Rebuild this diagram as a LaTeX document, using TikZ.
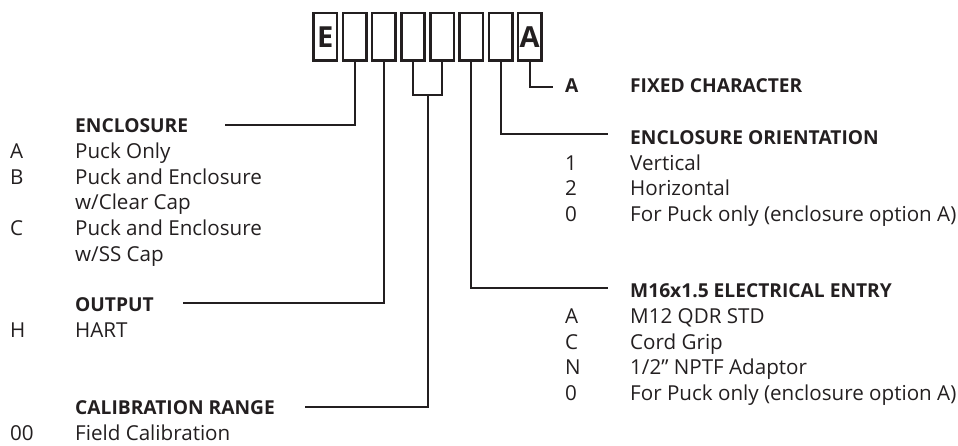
\documentclass[tikz,border=0pt]{standalone}
\usepackage{fontspec}
\setmainfont{Open Sans}
\usetikzlibrary{positioning}
\definecolor{ink}{RGB}{35,31,32}
\begin{document}
\begin{tikzpicture}[x=1pt,y=-1pt,every node/.style={text=ink},
		box/.style={draw=ink,line width=2.6pt,minimum width=23.4pt,minimum height=47.4pt,inner sep=0pt,font=\fontsize{29}{29}\bfseries\selectfont},
		head/.style={anchor=base west,inner sep=0pt,font=\fontsize{19.2}{26}\bfseries\selectfont},
		codes/.style={anchor=base west,inner sep=0pt,font=\fontsize{20.6}{25.8}\selectfont},
		wire/.style={draw=ink,line width=2pt}]
	\useasboundingbox (0,0) rectangle (958,445);
	
	% Code boxes
	\foreach \i/\t in {1/E,2/,3/,4/,5/,6/,7/,8/A}
		\node[box] (b\i) at ({325.3+29.2*(\i-1)},36.7) {\t};
	
	% Left side headings
	\node[head] (enc) at (75,132.3) {ENCLOSURE};
	\node[head] (out) at (75,311.7) {OUTPUT};
	\node[head] (cal) at (75,414) {CALIBRATION RANGE};
	
	% Left side options
	\node[codes] (encOpt) at (10,158.3) {\begin{tabular}[t]{@{}p{65pt}@{}l@{}}
			A & Puck Only\\
			B & Puck and Enclosure\\
			& w/Clear Cap\\
			C & Puck and Enclosure\\
			& w/SS Cap
		\end{tabular}};
	\node[codes] (outOpt) at (10,337.3) {\begin{tabular}[t]{@{}p{65pt}@{}l@{}}
			H & HART
		\end{tabular}};
	\node[codes] (calOpt) at (10,440) {\begin{tabular}[t]{@{}p{65pt}@{}l@{}}
			00 & Field Calibration
		\end{tabular}};
	
	% Right side headings
	\node[head] (fixCode) at (565,92.7) {A};
	\node[head] (fix) at (630,92.7) {FIXED CHARACTER};
	\node[head] (ori) at (630,144) {ENCLOSURE ORIENTATION};
	\node[head] (ent) at (630,297.3) {M16x1.5 ELECTRICAL ENTRY};
	
	% Right side options
	\node[codes] (oriOpt) at (565,170) {\begin{tabular}[t]{@{}p{65pt}@{}l@{}}
			1 & Vertical\\
			2 & Horizontal\\
			0 & For Puck only (enclosure option A)
		\end{tabular}};
	\node[codes] (entOpt) at (565,323.3) {\begin{tabular}[t]{@{}p{65pt}@{}l@{}}
			A & M12 QDR STD\\
			C & Cord Grip\\
			N & 1/2” NPTF Adaptor\\
			0 & For Puck only (enclosure option A)
		\end{tabular}};
	
	% Line ends
	\coordinate (encEnd) at (225,124.5);
	\coordinate (outEnd) at (183,303.3);
	\coordinate (calJoin) at (427.8,95);
	\coordinate (calEnd) at (305,406.7);
	\coordinate (fixEnd) at (553,86.7);
	\coordinate (oriEnd) at (608,134.3);
	\coordinate (entEnd) at (608,288.3);
	
	% Connectors
	\draw[wire] (b2.south) |- (encEnd);
	\draw[wire] (b3.south) |- (outEnd);
	\draw[wire] (b4.south) |- (calJoin) -| (b5.south);
	\draw[wire] (calJoin) |- (calEnd);
	\draw[wire] (b6.south) |- (entEnd);
	\draw[wire] (b7.south) |- (oriEnd);
	\draw[wire] (b8.south) |- (fixEnd);
\end{tikzpicture}
\end{document}
